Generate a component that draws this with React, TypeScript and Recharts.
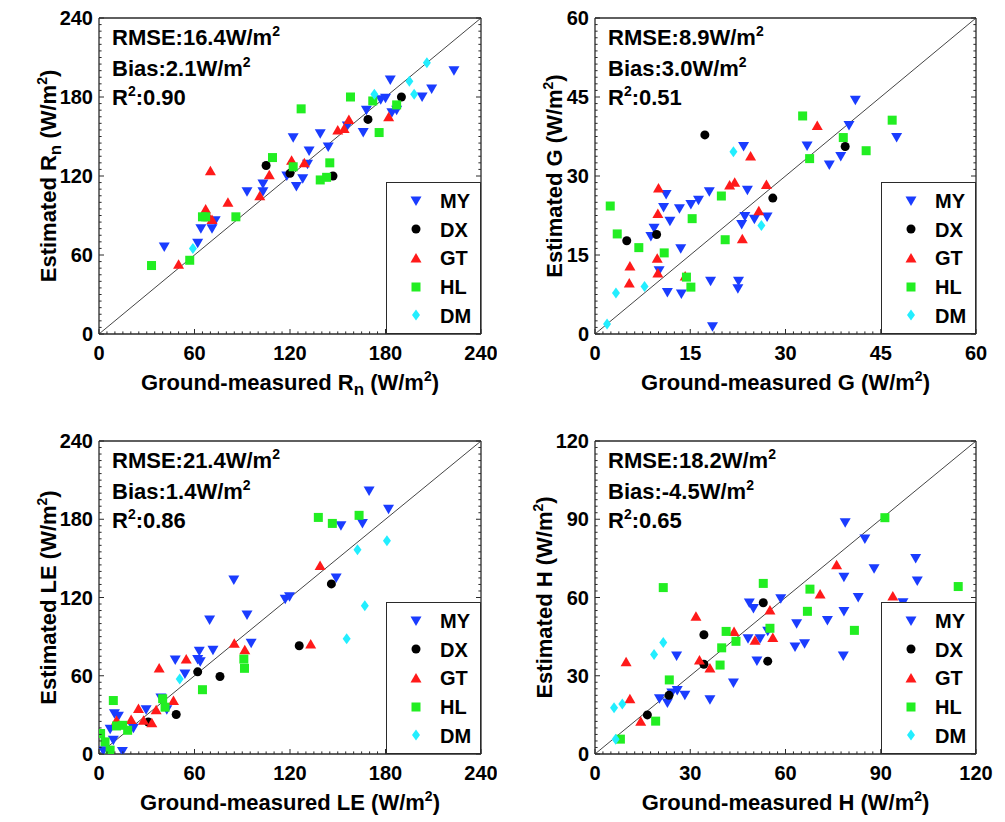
import React from 'react';
import { ScatterChart, Scatter, XAxis, YAxis, ReferenceLine, Legend } from 'recharts';

type Pt = [number, number];

const siteNames = ['MY', 'DX', 'GT', 'HL', 'DM'];
const siteColors = ['#1a3cff', '#000000', '#ff1a1a', '#22ee22', '#22eeff'];
const siteShapes = ['down', 'circle', 'up', 'square', 'diamond'];

// ---- Rn panel ----
const rnMY: Pt[] = [[41,66],[62,69],[64,80],[71,80],[73,86],[93,108],[103,114],[103,108],[118,120],[122,149],[124,112],[128,118],[131,129],[132,139],[139,152],[144,142],[156,158],[166,153],[168,170],[177,178],[180,179],[183,193],[184,168],[187,170],[203,180],[209,186],[223,200]];
const rnDX: Pt[] = [[105,128],[120,122],[147,120],[169,163],[190,180]];
const rnGT: Pt[] = [[50,53],[70,124],[67,95],[69,89],[71,87],[81,100],[101,105],[107,121],[121,132],[129,130],[150,155],[154,156],[157,163],[182,165]];
const rnHL: Pt[] = [[33,52],[57,56],[65,89],[67,89],[86,89],[109,134],[122,127],[127,171],[139,117],[143,119],[145,130],[158,180],[172,177],[176,153],[187,174]];
const rnDM: Pt[] = [[59,65],[173,182],[195,192],[198,182],[206,206]];

// ---- G panel ----
const gMY: Pt[] = [[18.5,1.4],[11.4,7.9],[13.6,7.6],[18.2,10],[22.6,10],[22.5,8.6],[10.1,12],[13.5,16.2],[8.8,18.5],[9.3,20.1],[11.8,21.4],[10.8,24],[11.2,26.5],[13.3,23.8],[15.1,24.6],[16.3,25.4],[18,27],[24,27.3],[23.4,35.6],[23.1,20.8],[23.6,22.3],[25.1,21.8],[27.1,22.2],[33.4,35.7],[36.9,32.1],[38.7,33.7],[40,39.6],[41,44.4],[47.5,37.3]];
const gDX: Pt[] = [[5,17.7],[9.7,18.9],[17.3,37.8],[28,25.8],[39.4,35.6]];
const gGT: Pt[] = [[5.5,12.9],[5.4,9.7],[10,27.7],[9.9,22.9],[9.8,14.4],[9.9,11.6],[14.2,11],[21.2,28.3],[22,28.8],[24.5,33.8],[23.2,18.1],[25.8,23.4],[27,28.4],[35,39.6]];
const gHL: Pt[] = [[2.4,24.3],[3.5,19],[6.9,16.4],[10.9,15.4],[14.4,10.8],[15.1,8.9],[15.3,21.9],[19.9,26.2],[20.5,17.9],[32.7,41.4],[33.8,33.3],[39.1,37.3],[42.7,34.8],[46.8,40.6]];
const gDM: Pt[] = [[1.9,1.9],[3.3,7.8],[7.8,9],[21.8,34.6],[26.2,20.6]];

// ---- LE panel ----
const leMY: Pt[] = [[2.7,2.5],[14.7,2],[7,19],[9,10.6],[9.7,30.8],[12.2,29],[21.6,19.7],[29.6,34],[42.6,34],[38.9,42.9],[47.9,72],[54,61.4],[63,78.8],[63.6,70.7],[62,72.5],[69.5,102.8],[71.6,79.6],[84.7,133.4],[93,106.6],[95.6,85],[117,118.7],[119.7,120.5],[149,135],[152,175],[165.5,176.8],[169.7,201.6],[181.9,187.7]];
const leDX: Pt[] = [[31,24.5],[48.5,30.3],[62,63],[76,59.4],[125.8,83],[146,130.4]];
const leGT: Pt[] = [[11,25.8],[20.2,26.5],[24.8,34.9],[28,25.8],[33.2,24],[35.9,34],[37.8,66],[46.8,41],[54.8,72.8],[85,85],[91.6,80],[133,84.4],[138.9,144.5]];
const leHL: Pt[] = [[1,15.7],[3.8,9.3],[7,3],[9,41],[11,21.5],[14.9,22],[18,18.2],[40,42.4],[41.5,35.9],[65,49.3],[91,72.8],[91.4,65.7],[137.8,181.4],[146.6,176.8],[163.4,183]];
const leDM: Pt[] = [[50.7,57.6],[155.6,88.4],[162.4,156.6],[167,113.7],[180.9,163.5]];

// ---- H panel ----
const hMY: Pt[] = [[20.3,21.2],[22.8,19.6],[24.2,23.4],[25.9,24.3],[28.3,22.5],[25.7,37.6],[36.2,20.8],[43.6,27.2],[48.2,44.2],[48.6,57.9],[49.9,55.8],[51,35.7],[52,44.2],[54.4,47.1],[58.5,59.5],[63,41],[63.5,49.9],[66,42.3],[73.2,51.2],[78.4,54.6],[78.2,37.6],[78.4,67.8],[78.8,88.7],[82.9,60],[85,82.4],[87.9,71],[97,58],[101,75],[101.5,66.3]];
const hDX: Pt[] = [[16.5,15],[23.3,22.5],[34.3,45.7],[34.3,34.4],[53,58],[54.4,35.6]];
const hGT: Pt[] = [[9.8,35.4],[11,21.2],[14.4,12.6],[31.8,52.8],[32.9,36],[36.2,33],[43.8,47],[50.4,43.6],[55.1,55.2],[56,44.7],[70.9,61.3],[76.1,72.6],[93.8,60.6]];
const hHL: Pt[] = [[8,5.7],[19.1,12.6],[21.5,63.8],[23.4,28.4],[39.4,34.1],[39.9,40.7],[41.3,47],[44.4,43.2],[53,65.4],[55.1,48.2],[66.9,54.7],[67.7,63.2],[81.7,47.4],[91.3,90.6],[114.4,64.2]];
const hDM: Pt[] = [[6,17.7],[8.6,19.2],[6.5,5.7],[18.6,38.1],[21.5,42.7]];

// tick labels
const rnTicks = ['0', '60', '120', '180', '240'];
const gTicks = ['0', '15', '30', '45', '60'];
const leTicks = ['0', '60', '120', '180', '240'];
const hTicks = ['0', '30', '60', '90', '120'];

// statistics
const rnStats = ['16.4', '2.1', '0.90'];
const gStats = ['8.9', '3.0', '0.51'];
const leStats = ['21.4', '1.4', '0.86'];
const hStats = ['18.2', '-4.5', '0.65'];

const FONT = '"Liberation Sans", Arial, Helvetica, sans-serif';
const AX = '#2a2a2a';

function Marker({ cx, cy, kind, color }: { cx: number; cy: number; kind: string; color: string }) {
  if (cx == null || cy == null || isNaN(cx) || isNaN(cy)) return null;
  switch (kind) {
    case 'down':
      return <polygon points={`${cx - 5.5},${cy - 4.5} ${cx + 5.5},${cy - 4.5} ${cx},${cy + 5}`} fill={color} />;
    case 'up':
      return <polygon points={`${cx - 5.5},${cy + 4.5} ${cx + 5.5},${cy + 4.5} ${cx},${cy - 5}`} fill={color} />;
    case 'circle':
      return <circle cx={cx} cy={cy} r={4.5} fill={color} />;
    case 'square':
      return <rect x={cx - 4.5} y={cy - 4.5} width={9} height={9} fill={color} />;
    default:
      return <polygon points={`${cx},${cy - 5.5} ${cx + 4},${cy} ${cx},${cy + 5.5} ${cx - 4},${cy}`} fill={color} />;
  }
}

function LegendBox() {
  return (
    <div style={{ width: 95, height: 152, boxSizing: 'border-box', border: `1.3px solid ${AX}`, background: '#fff', position: 'relative' }}>
      {siteNames.map((n, i) => {
        const c = 17.5 + i * 28.7;
        return (
          <React.Fragment key={n}>
            <svg width={20} height={20} style={{ position: 'absolute', left: 19, top: c - 10 }}>
              <Marker cx={10} cy={10} kind={siteShapes[i]} color={siteColors[i]} />
            </svg>
            <span style={{ position: 'absolute', left: 53, top: c - 11.7, lineHeight: '24px', fontFamily: FONT, fontWeight: 'bold', fontSize: 20, color: '#000' }}>{n}</span>
          </React.Fragment>
        );
      })}
    </div>
  );
}

type PanelProps = {
  box: { left: number; top: number; width: number; height: number };
  plot: { left: number; top: number; right: number; bottom: number };
  max: number;
  tickLabels: string[];
  series: Pt[][];
  stats: string[];
  sym: string;
  sub?: string;
  yGap: number;
};

function Panel({ box, plot, max, tickLabels, series, stats, sym, sub, yGap }: PanelProps) {
  // axes are 1px thick, so margins leave room for them
  const margin = {
    left: plot.left - box.left - 1,
    top: plot.top - box.top - 1,
    right: box.left + box.width - plot.right - 1,
    bottom: box.top + box.height - plot.bottom - 1,
  };
  const step = max / 48;
  const minor = Array.from({ length: 49 }, (_, i) => i * step);
  const tstyle = { fontFamily: FONT, fontWeight: 'bold' as const, fontSize: 20, fill: '#000' };

  const tick = (side: string) => (props: any) => {
    const { x, y, index } = props;
    const major = index % 12 === 0;
    const len = major ? 5 : 2.6;
    const lab = tickLabels[index / 12];
    if (side === 'bottom')
      return (
        <g>
          <line x1={x} x2={x} y1={y} y2={y - len} stroke={AX} />
          {major && <text x={x} y={y + 26} textAnchor="middle" {...tstyle}>{lab}</text>}
        </g>
      );
    if (side === 'top') return <line x1={x} x2={x} y1={y} y2={y + len} stroke={AX} />;
    if (side === 'left')
      return (
        <g>
          <line x1={x} x2={x + len} y1={y} y2={y} stroke={AX} />
          {major && <text x={x - 6} y={y + 7} textAnchor="end" {...tstyle}>{lab}</text>}
        </g>
      );
    return <line x1={x} x2={x - len} y1={y} y2={y} stroke={AX} />;
  };

  const data = series.map((s) => s.map(([x, y]) => ({ x, y })));
  const pl = plot.left - box.left;
  const pt = plot.top - box.top;
  const pw = plot.right - plot.left;
  const ph = plot.bottom - plot.top;
  const txt = { fontFamily: FONT, fontWeight: 'bold' as const, fill: '#000' };

  const titleBody = (
    <>
      {sym}
      {sub ? <tspan dy={5} fontSize={17}>{sub}</tspan> : null}
      <tspan dy={sub ? -5 : 0}> (W/m</tspan>
      <tspan dy={-9} fontSize={14}>2</tspan>
      <tspan dy={9}>)</tspan>
    </>
  );
  const axisLine = { stroke: AX, strokeWidth: 1.3 };

  return (
    <div style={{ position: 'absolute', left: box.left, top: box.top, width: box.width, height: box.height }}>
      <ScatterChart width={box.width} height={box.height} margin={margin}>
        <XAxis type="number" dataKey="x" domain={[0, max]} ticks={minor} interval={0} height={1} tickSize={0} tickMargin={0}
          tickLine={false} axisLine={axisLine} tick={tick('bottom')} allowDataOverflow />
        <XAxis xAxisId="top" orientation="top" type="number" domain={[0, max]} ticks={minor} interval={0} height={1} tickSize={0}
          tickMargin={0} tickLine={false} axisLine={axisLine} tick={tick('top')} allowDataOverflow />
        <YAxis type="number" dataKey="y" domain={[0, max]} ticks={minor} interval={0} width={1} tickSize={0} tickMargin={0}
          tickLine={false} axisLine={axisLine} tick={tick('left')} allowDataOverflow />
        <YAxis yAxisId="right" orientation="right" type="number" domain={[0, max]} ticks={minor} interval={0} width={1} tickSize={0}
          tickMargin={0} tickLine={false} axisLine={axisLine} tick={tick('right')} allowDataOverflow />
        <ReferenceLine segment={[{ x: 0, y: 0 }, { x: max, y: max }]} stroke="#454545" strokeWidth={1} ifOverflow="visible" />
        {data.map((d, i) => (
          <Scatter key={siteNames[i]} name={siteNames[i]} data={d} fill={siteColors[i]} isAnimationActive={false}
            shape={(p: any) => <Marker cx={p.cx} cy={p.cy} kind={siteShapes[i]} color={siteColors[i]} />} />
        ))}
        <Legend layout="vertical" align="center" verticalAlign="middle" content={() => <LegendBox />}
          wrapperStyle={{ left: pl + pw - 95, top: pt + ph - 152, width: 95, height: 152 }} />
      </ScatterChart>
      <svg width={box.width} height={box.height} style={{ position: 'absolute', left: 0, top: 0, pointerEvents: 'none' }}>
        <text x={pl + 13} y={pt + 27} fontSize={22} {...txt}>
          RMSE:{stats[0]}W/m<tspan dy={-9} fontSize={14}>2</tspan>
        </text>
        <text x={pl + 13} y={pt + 58} fontSize={22} {...txt}>
          Bias:{stats[1]}W/m<tspan dy={-9} fontSize={14}>2</tspan>
        </text>
        <text x={pl + 13} y={pt + 87} fontSize={22} {...txt}>
          R<tspan dy={-9} fontSize={14}>2</tspan><tspan dy={9}>:{stats[2]}</tspan>
        </text>
        <text x={pl + pw / 2} y={pt + ph + 56} textAnchor="middle" fontSize={22} {...txt}>
          Ground-measured {titleBody}
        </text>
        <text transform={`translate(${pl - yGap},${pt + ph / 2}) rotate(-90)`} textAnchor="middle" fontSize={22} {...txt}>
          Estimated {titleBody}
        </text>
      </svg>
    </div>
  );
}

export default function App() {
  return (
    <div style={{ position: 'absolute', left: 0, top: 0, width: 1005, height: 822, background: '#fff', overflow: 'hidden' }}>
      <Panel box={{ left: 0, top: 0, width: 497, height: 411 }} plot={{ left: 99, top: 18, right: 481, bottom: 334 }}
        max={240} tickLabels={rnTicks} series={[rnMY, rnDX, rnGT, rnHL, rnDM]} stats={rnStats} sym="R" sub="n" yGap={43} />
      <Panel box={{ left: 497, top: 0, width: 508, height: 411 }} plot={{ left: 595, top: 18, right: 976, bottom: 334 }}
        max={60} tickLabels={gTicks} series={[gMY, gDX, gGT, gHL, gDM]} stats={gStats} sym="G" yGap={33} />
      <Panel box={{ left: 0, top: 411, width: 497, height: 411 }} plot={{ left: 99, top: 441, right: 481, bottom: 754 }}
        max={240} tickLabels={leTicks} series={[leMY, leDX, leGT, leHL, leDM]} stats={leStats} sym="LE" yGap={43} />
      <Panel box={{ left: 497, top: 411, width: 508, height: 411 }} plot={{ left: 595, top: 441, right: 976, bottom: 754 }}
        max={120} tickLabels={hTicks} series={[hMY, hDX, hGT, hHL, hDM]} stats={hStats} sym="H" yGap={43} />
    </div>
  );
}
